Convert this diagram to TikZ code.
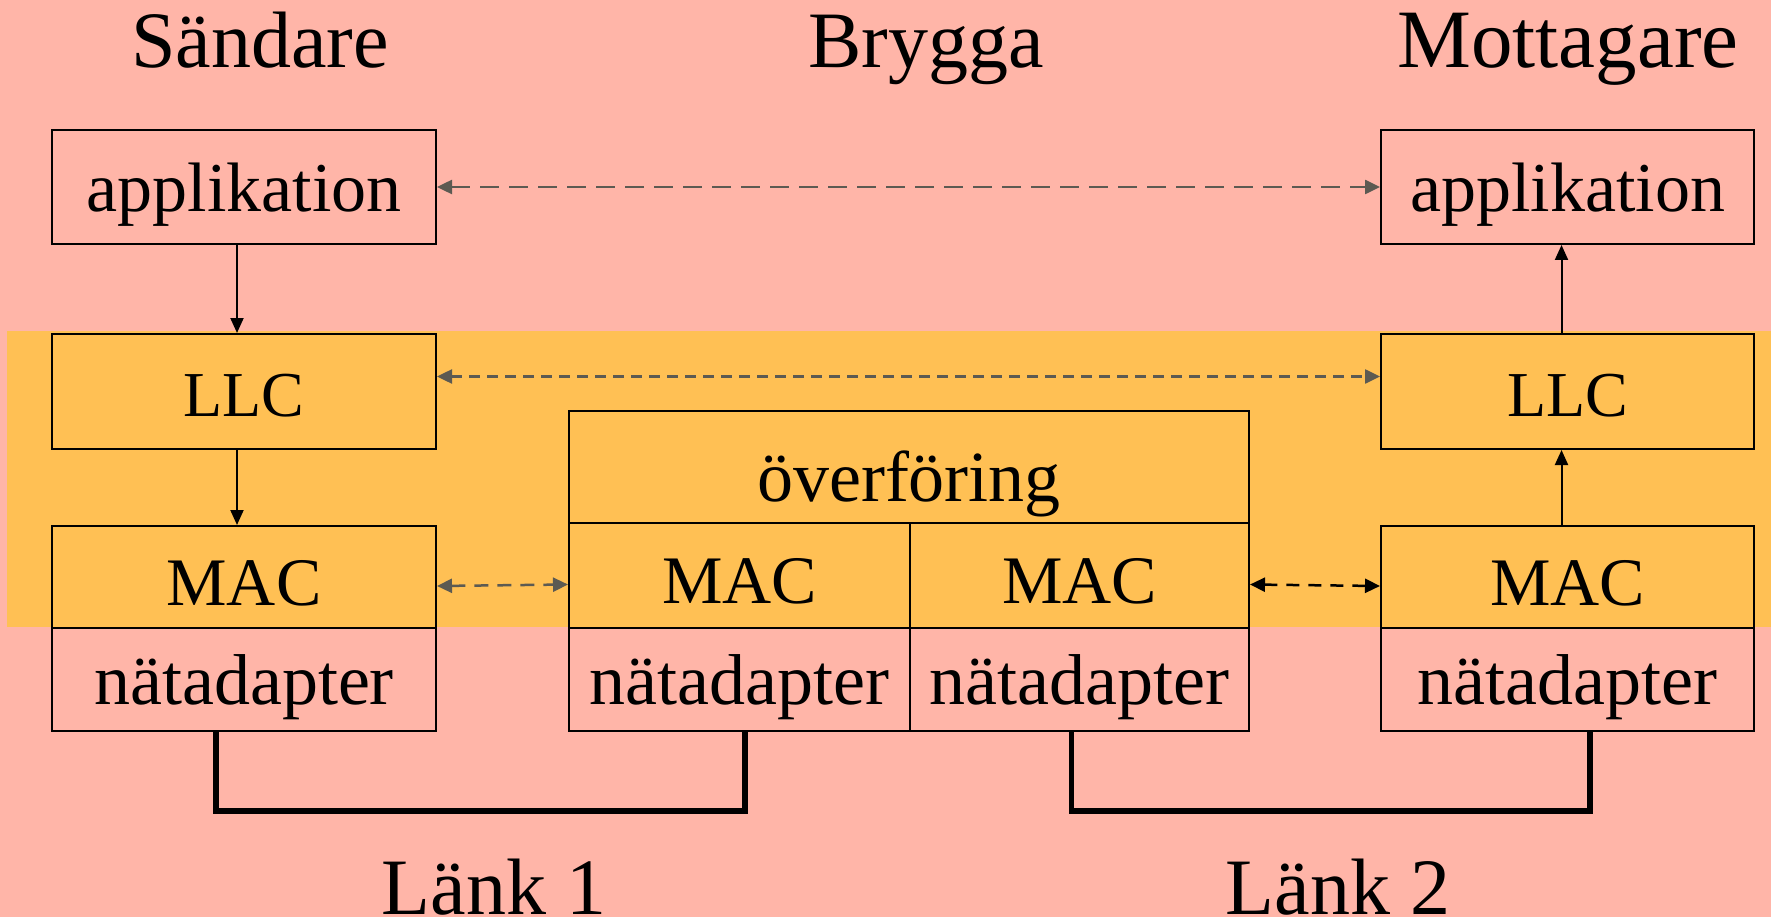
\documentclass[tikz,border=0pt]{standalone}
\usepackage{fontspec}
\setmainfont{Liberation Serif}
\usetikzlibrary{arrows.meta,calc}
\definecolor{bgpink}{RGB}{255,181,168}
\definecolor{bandorange}{RGB}{255,192,84}
\definecolor{arrgray}{RGB}{92,90,82}
\begin{document}
\begin{tikzpicture}[x=1pt,y=-1pt,
  box/.style={draw=black, line width=2pt, inner sep=0pt, anchor=north west,
    text height=63pt, text depth=13pt},
  fapp/.style={font=\fontsize{70}{80}\selectfont},
  fllc/.style={font=\fontsize{64}{76}\selectfont},
  fmac/.style={font=\fontsize{68}{78}\selectfont, text depth=7pt},
  fnat/.style={font=\fontsize{72}{82}\selectfont},
  fover/.style={font=\fontsize{72}{82}\selectfont, text height=70pt, text depth=2pt},
  title/.style={anchor=base, inner sep=0pt, font=\fontsize{80}{90}\selectfont},
  solidarrow/.style={draw=black, line width=2pt, -{Triangle[length=15pt,width=13pt]}},
  grayarrow/.style={draw=arrgray, line width=2.5pt, {Triangle[length=15pt,width=14pt]}-{Triangle[length=15pt,width=14pt]}},
  blackarrow/.style={draw=black, line width=2.5pt, {Triangle[length=15pt,width=14pt]}-{Triangle[length=15pt,width=14pt]}, dash pattern=on 13pt off 9pt},
  linkline/.style={draw=black, line width=5.5pt, line join=miter}
]
\useasboundingbox (0,0) rectangle (1771,917);
\fill[bgpink] (0,0) rectangle (1771,917);
\fill[bandorange] (7,331) rectangle (1771,627);

% titles
\node[title] (tsend) at (260,68) {Sändare};
\node[title] (tbrid) at (926,68) {Brygga};
\node[title, font=\fontsize{83}{92}\selectfont] (trecv) at (1568,68) {Mottagare};

% left stack
\node[box, fapp, minimum width=384pt, minimum height=114pt] (lapp) at (51,129) {applikation};
\node[box, fllc, minimum width=384pt, minimum height=115pt] (lllc) at (51,333) {LLC};
\node[box, fmac, minimum width=384pt, minimum height=102pt] (lmac) at (51,525) {MAC};
\node[box, fnat, minimum width=384pt, minimum height=103pt] (lnat) at (51,627) {nätadapter};

% right stack
\node[box, fapp, minimum width=373pt, minimum height=114pt] (rapp) at (1380,129) {applikation};
\node[box, fllc, minimum width=373pt, minimum height=115pt] (rllc) at (1380,333) {LLC};
\node[box, fmac, minimum width=373pt, minimum height=102pt] (rmac) at (1380,525) {MAC};
\node[box, fnat, minimum width=373pt, minimum height=103pt] (rnat) at (1380,627) {nätadapter};

% bridge
\node[box, fover, minimum width=680pt, minimum height=112pt] (over) at (568,410) {överföring};
\node[box, fmac, minimum width=341pt, minimum height=105pt] (bmac1) at (568,522) {MAC};
\node[box, fmac, minimum width=339pt, minimum height=105pt] (bmac2) at (909,522) {MAC};
\node[box, fnat, minimum width=341pt, minimum height=103pt] (bnat1) at (568,627) {nätadapter};
\node[box, fnat, minimum width=339pt, minimum height=103pt] (bnat2) at (909,627) {nätadapter};

% vertical solid arrows
\draw[solidarrow] ([xshift=-7pt]lapp.south) -- ([xshift=-7pt]lllc.north);
\draw[solidarrow] ([xshift=-7pt]lllc.south) -- ([xshift=-7pt]lmac.north);
\draw[solidarrow] ([xshift=-6pt]rmac.north) -- ([xshift=-6pt]rllc.south);
\draw[solidarrow] ([xshift=-6pt]rllc.north) -- ([xshift=-6pt]rapp.south);

% peer dashed arrows
\draw[grayarrow, dash pattern=on 19pt off 10pt] (lapp.east) -- (rapp.west);
\draw[grayarrow, dash pattern=on 11pt off 7pt] ([yshift=15pt]lllc.east) -- ([yshift=15pt]rllc.west);
\draw[grayarrow, dash pattern=on 14pt off 9pt] ([yshift=-9pt]lmac.east) -- ([yshift=-9pt]bmac1.west);
\draw[blackarrow] ([yshift=-9pt]bmac2.east) -- ([yshift=-9pt]rmac.west);

% links
\draw[linkline] ([xshift=-28pt]lnat.south) -- ++(0,79) -| ([xshift=5.6pt]bnat1.south);
\draw[linkline] ([xshift=-8pt]bnat2.south) -- ++(0,79) -| ([xshift=22.6pt]rnat.south);

\node[title] (lank1) at (494,914) {Länk 1};
\node[title] (lank2) at (1338,914) {Länk 2};
\end{tikzpicture}
\end{document}
